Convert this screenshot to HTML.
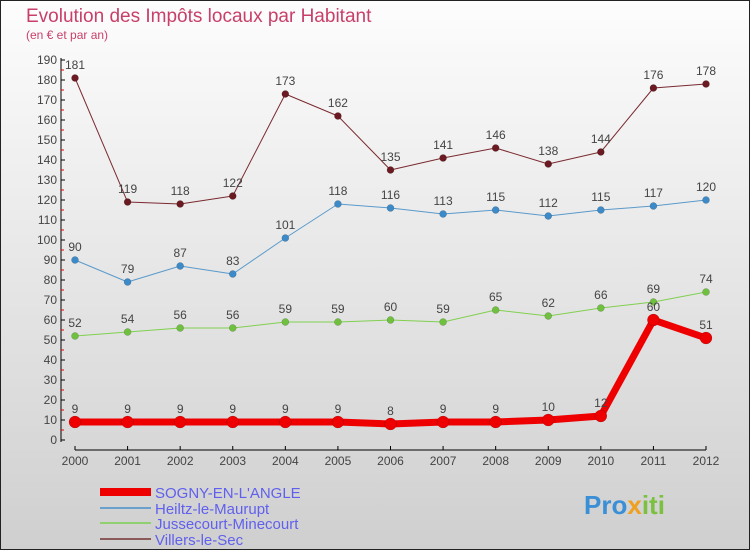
<!DOCTYPE html>
<html><head><meta charset="utf-8"><style>
body{margin:0;}
#c{width:750px;height:550px;position:relative;overflow:hidden;font-family:"Liberation Sans",sans-serif;}
</style></head><body>
<div id="c">
<svg id="s" width="750" height="550" xmlns="http://www.w3.org/2000/svg">
<defs><linearGradient id="bg" x1="0" y1="0" x2="0" y2="1"><stop offset="0" stop-color="#fdfdfd"/><stop offset="1" stop-color="#cfcfcf"/></linearGradient></defs>
<rect x="0.5" y="0.5" width="749" height="549" fill="url(#bg)" stroke="#222"/>
<text x="26" y="22" font-size="19" fill="#c8406a">Evolution des Impôts locaux par Habitant</text>
<text x="26" y="39" font-size="12" fill="#c8406a">(en € et par an)</text>
<g id="axes"></g><g id="series"></g><g id="legend"></g>
<text x="584" y="514" font-size="26" font-weight="bold" fill="#3a8fd6">Pro<tspan fill="#f0a020">x</tspan><tspan fill="#7cc040">iti</tspan></text>
</svg></div>
<script>
const years=["2000","2001","2002","2003","2004","2005","2006","2007","2008","2009","2010","2011","2012"];
const sogny=[9,9,9,9,9,9,8,9,9,10,12,60,51];
const heiltz=[90,79,87,83,101,118,116,113,115,112,115,117,120];
const jusse=[52,54,56,56,59,59,60,59,65,62,66,69,74];
const villers=[181,119,118,122,173,162,135,141,146,138,144,176,178];
const yTicks=[0,10,20,30,40,50,60,70,80,90,100,110,120,130,140,150,160,170,180,190];
const NS="http://www.w3.org/2000/svg";
const X=i=>75+i*(631/12), Y=v=>440-v*2.0;
function mk(p,t,a){const e=document.createElementNS(NS,t);for(const k in a)e.setAttribute(k,a[k]);p.appendChild(e);return e;}
const ax=document.getElementById('axes');
let l=mk(ax,'line',{x1:61,y1:58,x2:61,y2:442,stroke:'#000'});


l=mk(ax,'line',{x1:75,y1:450,x2:706,y2:450,stroke:'#000'});


yTicks.forEach(v=>{
 mk(ax,'line',{x1:61,y1:Y(v),x2:65,y2:Y(v),stroke:'#000'});
 if(v<190) mk(ax,'line',{x1:61,y1:Y(v+5),x2:64,y2:Y(v+5),stroke:'#e00'});
 const t=mk(ax,'text',{x:57,y:Y(v)+4,'font-size':12,fill:'#444','text-anchor':'end'});t.textContent=v;
 
 
});
years.forEach((y,i)=>{
 mk(ax,'line',{x1:X(i),y1:446,x2:X(i),y2:450,stroke:'#000'});
 const t=mk(ax,'text',{x:X(i),y:465,'font-size':12,fill:'#444','text-anchor':'middle'});t.textContent=y;
 
 
});
const se=document.getElementById('series');
function draw(data,col,dot,w,r,name){
 const g=mk(se,'g',{});
 
 
 mk(g,'polyline',{points:data.map((v,i)=>X(i)+','+Y(v)).join(' '),fill:'none',stroke:col,'stroke-width':w,'stroke-linejoin':'round'});
 data.forEach((v,i)=>{
  const c=mk(g,'circle',{cx:X(i),cy:Y(v),r:r,fill:dot,stroke:'#0004','stroke-width':0.5});
  
  
  const t=mk(g,'text',{x:X(i),y:Y(v)-9,'font-size':12,fill:'#444','text-anchor':'middle'});t.textContent=v;
  
  
 });
}
draw(villers,'#7a2a30','#6a1a20',1,3.5,'series-villers-le-sec');
draw(heiltz,'#5a9acb','#3d8ac8',1,3.5,'series-heiltz-le-maurupt');
draw(jusse,'#80d050','#70c040',1,3.5,'series-jussecourt-minecourt');
draw(sogny,'#ee0000','#ee0000',7,6,'series-sogny-en-langle');
const lg=document.getElementById('legend');
[["SOGNY-EN-L'ANGLE",'#ee0000',8,492,15],["Heiltz-le-Maurupt",'#6aa0cc',2,508,15],["Jussecourt-Minecourt",'#90d070',2,523,15],["Villers-le-Sec",'#8a5a5a',2,539,15]].forEach(e=>{
 const g=mk(lg,'g',{});
 
 
 mk(g,'line',{x1:100,y1:e[3],x2:151,y2:e[3],stroke:e[1],'stroke-width':e[2]});
 const t=mk(g,'text',{x:155,y:e[3]+6,'font-size':e[4],fill:'#6060ee'});t.textContent=e[0];
});
</script>
</body></html>
